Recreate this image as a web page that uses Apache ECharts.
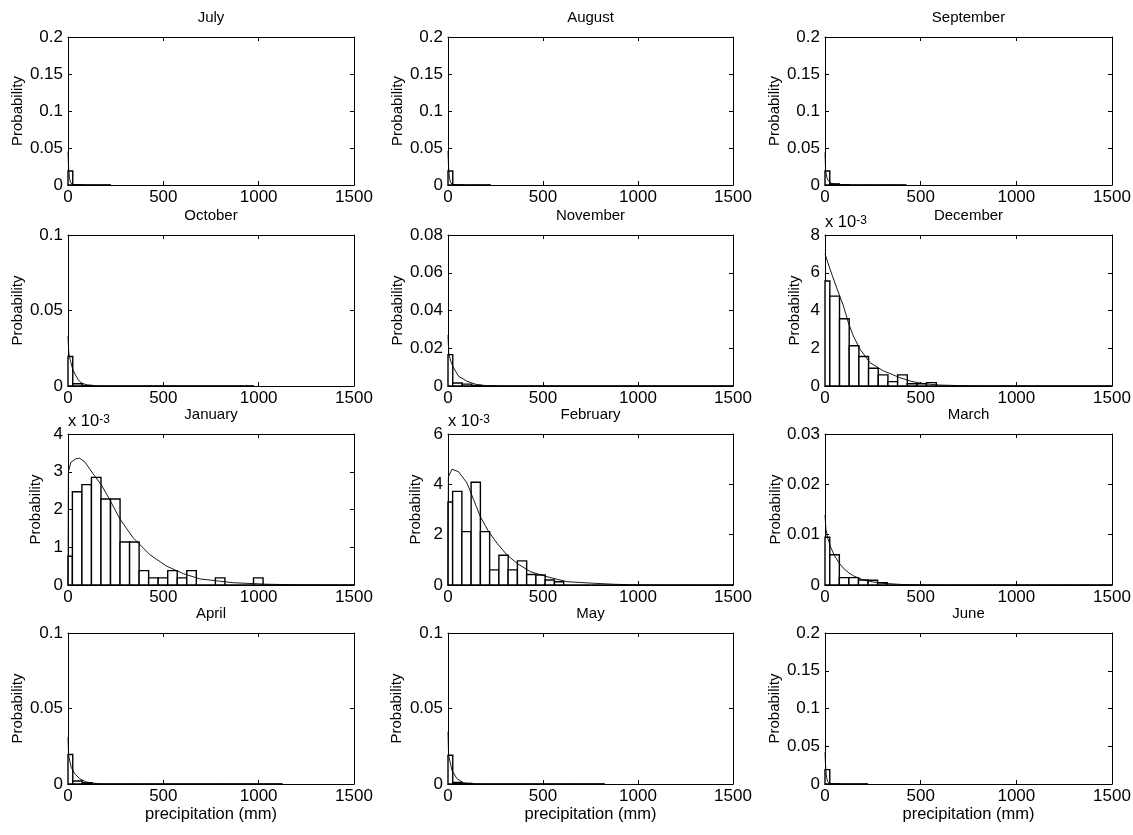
<!DOCTYPE html>
<html>
<head>
<meta charset="utf-8">
<script src="https://cdn.jsdelivr.net/npm/echarts@6/dist/echarts.min.js"></script>
<style>
  html, body { margin: 0; padding: 0; background: #fff; }
  #chart { width: 1133px; height: 835px; }
</style>
</head>
<body>
<div id="chart"></div>
<script>
// ---- data -------------------------------------------------------------
const months = ['July', 'August', 'September', 'October', 'November', 'December',
                'January', 'February', 'March', 'April', 'May', 'June'];

// y-axis range and tick step per month (probability density)
const yMax  = [0.2, 0.2, 0.2, 0.1, 0.08, 0.008, 0.004, 0.006, 0.03, 0.1, 0.1, 0.2];
const yStep = [0.05, 0.05, 0.05, 0.05, 0.02, 0.002, 0.001, 0.002, 0.01, 0.05, 0.05, 0.05];
// tick labels shown as multiples of 10^-3 for these months
const yExp  = [0, 0, 0, 0, 0, -3, -3, -3, 0, 0, 0, 0];

// histogram bins: width (mm), centre of first bin (mm), number of bins
const binWidth = [50, 50, 50, 50, 50, 50.6, 50, 48.7, 50, 50, 50, 50];
const binFirst = [0, 0, 0, 0, 0, 0, -2, 0, 0, 0, 0, 0];
const binCount = [5, 5, 9, 20, 31, 31, 31, 32, 31, 23, 17, 5];

// non-empty bin heights (remaining bins are empty)
const histJul = [0.019, 0.0003];
const histAug = [0.019, 0.0003];
const histSep = [0.019, 0.0015, 0.0004];
const histOct = [0.0195, 0.0015, 0.0003];
const histNov = [0.0166, 0.0016, 0.001, 0.0003];
const histDec = [0.00556, 0.00476, 0.00356, 0.00213, 0.00156, 0.00094, 0.00059,
                 0.00023, 0.00059, 0.00012, 0.00012, 0.00018];
const histJan = [0.00076, 0.00247, 0.00266, 0.00285, 0.00228, 0.00228, 0.00114,
                 0.00114, 0.00038, 0.00019, 0.00019, 0.00038, 0.00019, 0.00038,
                 0, 0, 0.00019, 0, 0, 0, 0.00019];
const histFeb = [0.0033, 0.00372, 0.00212, 0.00408, 0.00212, 0.0006, 0.00118,
                 0.0006, 0.00096, 0.00042, 0.0004, 0.0002, 0.00013];
const histMar = [0.0095, 0.006, 0.00146, 0.00146, 0.001, 0.00093, 0.00046];
const histApr = [0.0195, 0.002, 0.0008];
const histMay = [0.019, 0.001, 0.0004];
const histJun = [0.019, 0.0003];

// fitted density curves: [precipitation (mm), probability density]
const fitJul = [[0, 0.045], [2, 0.03], [4, 0.02], [8, 0.009], [14, 0.003], [25, 0.0006], [50, 0], [225, 0]];
const fitAug = [[0, 0.046], [2, 0.03], [4, 0.02], [8, 0.009], [14, 0.003], [25, 0.0006], [50, 0], [225, 0]];
const fitSep = [[0, 0.044], [3, 0.02], [10, 0.01], [17, 0.006], [35, 0.002], [60, 0.0003], [100, 0], [425, 0]];
const fitOct = [[0, 0.033], [4, 0.022], [12, 0.017], [25, 0.011], [40, 0.007], [55, 0.004], [70, 0.002],
                [100, 0.0007], [150, 0.0001], [200, 0], [975, 0]];
const fitNov = [[0, 0.027], [4, 0.017], [15, 0.013], [30, 0.0095], [56, 0.0051], [100, 0.0025],
                [150, 0.0008], [200, 0.0002], [300, 0], [1500, 0]];
const fitDec = [[0, 0.0070], [26, 0.0062], [61, 0.0052], [96, 0.00425], [122, 0.00336], [148, 0.00265],
                [183, 0.00195], [235, 0.00124], [305, 0.0008], [392, 0.00044], [450, 0.00025],
                [500, 0.00015], [550, 0.00009], [600, 0.00005], [700, 0.00002], [800, 0.000007],
                [1000, 0], [1500, 0]];
const fitJan = [[0, 0], [2, 0.0030], [15, 0.00325], [40, 0.00334], [61, 0.00336], [90, 0.00325],
                [131, 0.00295], [175, 0.00265], [219, 0.00226], [272, 0.00175], [342, 0.00125],
                [430, 0.0008], [517, 0.0005], [605, 0.0003], [693, 0.00016], [868, 0.00006],
                [1044, 0.00002], [1200, 0.000005], [1500, 0]];
const fitFeb = [[0, 0], [2, 0.0043], [21, 0.0046], [56, 0.0045], [100, 0.00405], [135, 0.00339],
                [170, 0.00272], [214, 0.00212], [258, 0.00166], [310, 0.0012], [363, 0.00086],
                [433, 0.00053], [521, 0.00033], [626, 0.00013], [767, 0.00007], [872, 0.00003],
                [1000, 0], [1500, 0]];
const fitMar = [[0, 0.0139], [5, 0.011], [15, 0.0092], [30, 0.0075], [50, 0.0058], [75, 0.0043],
                [100, 0.0032], [125, 0.0024], [150, 0.0018], [200, 0.001], [250, 0.0006],
                [300, 0.00035], [400, 0.0001], [500, 0.00003], [600, 0], [1500, 0]];
const fitApr = [[0, 0.031], [3, 0.019], [17, 0.011], [35, 0.0069], [61, 0.0035], [96, 0.0013],
                [150, 0.0003], [200, 0], [1125, 0]];
const fitMay = [[0, 0.0346], [3, 0.019], [21, 0.009], [47, 0.0035], [82, 0.0007], [130, 0.0001],
                [200, 0], [825, 0]];
const fitJun = [[0, 0.042], [2, 0.03], [4, 0.02], [8, 0.009], [14, 0.003], [25, 0.0006], [50, 0], [225, 0]];

const hists = [histJul, histAug, histSep, histOct, histNov, histDec,
               histJan, histFeb, histMar, histApr, histMay, histJun];
const fits  = [fitJul, fitAug, fitSep, fitOct, fitNov, fitDec,
               fitJan, fitFeb, fitMar, fitApr, fitMay, fitJun];

const xTitle = 'precipitation (mm)';
const yTitle = 'Probability';

// ---- layout -----------------------------------------------------------
const colLeft  = [68, 448, 825];
const colWidth = [286, 285, 287];
const rowTop   = [37, 235, 434, 633];
const rowHeight = [148, 151, 151, 151];
const yNameGap = [43, 43, 43, 43, 43, 23, 25, 25, 33, 43, 44, 43];
const FONT = '"Liberation Sans", Arial, Helvetica, sans-serif';
const BLACK = '#000';

// ---- option -----------------------------------------------------------
const grids = [], xAxes = [], yAxes = [], series = [], titles = [];

function fmt(v) { return String(+v.toFixed(6)); }

function renderBin(params, api) {
  const cs = params.coordSys;
  const c = api.value(0), h = api.value(1), w = api.value(2);
  const a = api.coord([c - w / 2, h]);
  const b = api.coord([c + w / 2, 0]);
  const x0 = Math.max(a[0], cs.x);
  const x1 = Math.min(b[0], cs.x + cs.width);
  if (x1 <= x0) return null;
  return {
    type: 'rect',
    shape: { x: x0, y: a[1], width: x1 - x0, height: b[1] - a[1] },
    style: { fill: '#fff', stroke: BLACK, lineWidth: 1.4 }
  };
}

months.forEach((name, i) => {
  const r = Math.floor(i / 3), c = i % 3;
  const left = colLeft[c], top = rowTop[r], width = colWidth[c], height = rowHeight[r];
  grids.push({ left, top, width, height, containLabel: false, outerBoundsMode: 'none' });

  titles.push({
    text: name, left: left + width / 2, top: top - 27, textAlign: 'center', padding: 0,
    textStyle: { fontFamily: FONT, fontSize: 15, fontWeight: 'normal', color: BLACK }
  });

  const lineStyle = { color: BLACK, width: 1 };
  const tick = { show: true, inside: true, length: 4, lineStyle: { color: BLACK, width: 1 } };
  const xi = xAxes.length;
  xAxes.push({
    gridIndex: i, type: 'value', min: 0, max: 1500, interval: 500, position: 'bottom',
    axisLine: { show: true, onZero: false, lineStyle },
    axisTick: tick, splitLine: { show: false },
    axisLabel: { color: BLACK, fontSize: 17, fontFamily: FONT, margin: 4, showMinLabel: true, showMaxLabel: true,
                 formatter: v => fmt(v) },
    name: r === 3 ? xTitle : '', nameLocation: 'middle', nameGap: 21,
    nameTextStyle: { color: BLACK, fontSize: 16.5, fontFamily: FONT }
  });
  xAxes.push({
    gridIndex: i, type: 'value', min: 0, max: 1500, interval: 500, position: 'top',
    axisLine: { show: true, onZero: false, lineStyle },
    axisTick: tick, splitLine: { show: false }, axisLabel: { show: false }
  });

  const scale = Math.pow(10, -yExp[i]);
  const yi = yAxes.length;
  yAxes.push({
    gridIndex: i, type: 'value', min: 0, max: yMax[i], interval: yStep[i], position: 'left',
    axisLine: { show: true, onZero: false, lineStyle },
    axisTick: tick, splitLine: { show: false },
    axisLabel: { color: BLACK, fontSize: 17, fontFamily: FONT, margin: 5, formatter: v => fmt(v * scale) },
    name: yTitle, nameLocation: 'middle', nameGap: yNameGap[i], nameRotate: 90,
    nameTextStyle: { color: BLACK, fontSize: 15, fontFamily: FONT }
  });
  yAxes.push({
    gridIndex: i, type: 'value', min: 0, max: yMax[i], interval: yStep[i], position: 'right',
    axisLine: { show: true, onZero: false, lineStyle },
    axisTick: tick, splitLine: { show: false }, axisLabel: { show: false }
  });
  if (yExp[i] !== 0) {
    // exponent note above the y axis
    yAxes.push({
      gridIndex: i, type: 'value', min: 0, max: yMax[i], position: 'left',
      axisLine: { show: false }, axisTick: { show: false }, axisLabel: { show: false },
      splitLine: { show: false },
      name: '{b|x 10}{s|' + yExp[i] + '}', nameLocation: 'end', nameGap: 4,
      nameTextStyle: {
        align: 'left', verticalAlign: 'bottom',
        rich: {
          b: { fontSize: 16.5, fontFamily: FONT, color: BLACK, lineHeight: 16, padding: [8, 0, 0, 0], verticalAlign: 'bottom' },
          s: { fontSize: 12, fontFamily: FONT, color: BLACK, lineHeight: 12, verticalAlign: 'top' }
        }
      }
    });
  }

  const bins = [];
  for (let k = 0; k < binCount[i]; k++) {
    const h = k < hists[i].length ? hists[i][k] : 0;
    bins.push([binFirst[i] + k * binWidth[i], h, binWidth[i]]);
  }
  series.push({
    type: 'custom', xAxisIndex: xi, yAxisIndex: yi, renderItem: renderBin,
    encode: { x: 0, y: 1 }, data: bins, z: 2, silent: true
  });
  series.push({
    type: 'line', xAxisIndex: xi, yAxisIndex: yi, data: fits[i], symbol: 'none', showSymbol: false,
    lineStyle: { color: BLACK, width: 0.9 }, z: 3, silent: true, clip: true
  });
});

const chart = echarts.init(document.getElementById('chart'), null, { renderer: 'canvas' });
chart.setOption({
  animation: false,
  backgroundColor: '#fff',
  title: titles,
  grid: grids,
  xAxis: xAxes,
  yAxis: yAxes,
  series
});
</script>
</body>
</html>
